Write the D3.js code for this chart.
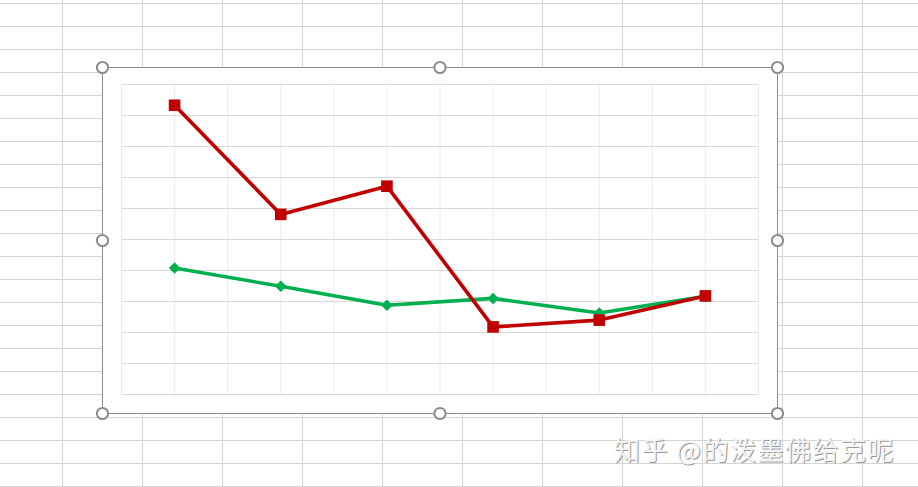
<!DOCTYPE html>
<meta charset="utf-8">
<script src="https://d3js.org/d3.v7.min.js"></script>
<style>
    body { margin: 0; background: #ffffff; }
    svg { display: block; }
</style>
<div id="my_dataviz"></div>

<script>
    // chart values (no axis labels are shown)
    var categories = ["1", "2", "3", "4", "5", "6"];
    var redValues = [93.3, 58.1, 67.2, 21.8, 24.0, 31.8];
    var greenValues = [40.8, 34.9, 28.8, 31.0, 26.3, 31.7];
    var yTicks = [0, 10, 20, 30, 40, 50, 60, 70, 80, 90, 100];
    var watermark = "知乎 @的泼墨佛给克呢";

    var W = 918, H = 487;

    var svg = d3.select("#my_dataviz")
        .append("svg")
        .attr("width", W)
        .attr("height", H);

    // spreadsheet cells behind the chart
    var sheet = svg.append("g").attr("class", "sheet");
    sheet.selectAll(".col")
        .data(d3.range(62.5, W, 80))
        .enter().append("line")
        .attr("x1", function (d) { return d; })
        .attr("x2", function (d) { return d; })
        .attr("y1", 0).attr("y2", H)
        .attr("stroke", "#d4d4d4").attr("stroke-width", 1);
    sheet.selectAll(".row")
        .data(d3.range(3.5, H, 23))
        .enter().append("line")
        .attr("x1", 0).attr("x2", W)
        .attr("y1", function (d) { return d; })
        .attr("y2", function (d) { return d; })
        .attr("stroke", "#d4d4d4").attr("stroke-width", 1);

    // chart area
    var box = { left: 102.5, top: 67.5, right: 777.5, bottom: 413.5 };
    svg.append("rect")
        .attr("x", box.left).attr("y", box.top)
        .attr("width", box.right - box.left)
        .attr("height", box.bottom - box.top)
        .attr("fill", "#ffffff")
        .attr("stroke", "#8c8c8c")
        .attr("stroke-width", 1);

    // plot area
    var plot = { left: 121.5, top: 84.5, right: 758.5, bottom: 394.5 };

    var x = d3.scaleBand()
        .domain(categories)
        .range([plot.left, plot.right]);

    var y = d3.scaleLinear()
        .domain([0, 100])
        .range([plot.bottom, plot.top]);

    var cx = function (d, i) { return x(categories[i]) + x.bandwidth() / 2; };

    // vertical gridlines: category edges and centres
    var vLines = [];
    categories.forEach(function (c) {
        vLines.push(x(c));
        vLines.push(x(c) + x.bandwidth() / 2);
    });
    vLines.push(plot.right);

    svg.append("g")
        .selectAll("line")
        .data(vLines)
        .enter().append("line")
        .attr("x1", function (d) { return d; })
        .attr("x2", function (d) { return d; })
        .attr("y1", plot.top).attr("y2", plot.bottom)
        .attr("stroke", "#ececec").attr("stroke-width", 1);

    // horizontal gridlines
    svg.append("g")
        .selectAll("line")
        .data(yTicks)
        .enter().append("line")
        .attr("x1", plot.left).attr("x2", plot.right)
        .attr("y1", function (d) { return y(d); })
        .attr("y2", function (d) { return y(d); })
        .attr("stroke", "#d9d9d9").attr("stroke-width", 1);

    var line = d3.line()
        .x(cx)
        .y(function (d) { return y(d); });

    var series = [
        { values: greenValues, color: "#00b050", symbol: d3.symbolDiamond2, size: 85 },
        { values: redValues, color: "#c00000", symbol: d3.symbolSquare, size: 135 }
    ];

    series.forEach(function (s) {
        svg.append("path")
            .datum(s.values)
            .attr("d", line)
            .attr("fill", "none")
            .attr("stroke", s.color)
            .attr("stroke-width", 3.6)
            .attr("stroke-linejoin", "round");

        svg.append("g")
            .selectAll("path")
            .data(s.values)
            .enter().append("path")
            .attr("d", d3.symbol().type(s.symbol).size(s.size))
            .attr("transform", function (d, i) {
                return "translate(" + cx(d, i) + "," + y(d) + ")";
            })
            .attr("fill", s.color);
    });

    // selection handles
    var midX = (box.left + box.right) / 2, midY = (box.top + box.bottom) / 2;
    var handles = [
        [box.left, box.top], [midX, box.top], [box.right, box.top],
        [box.left, midY], [box.right, midY],
        [box.left, box.bottom], [midX, box.bottom], [box.right, box.bottom]
    ];
    svg.append("g")
        .selectAll("circle")
        .data(handles)
        .enter().append("circle")
        .attr("cx", function (d) { return d[0]; })
        .attr("cy", function (d) { return d[1]; })
        .attr("r", 5.6)
        .attr("fill", "#ffffff")
        .attr("stroke", "#8c8c8c")
        .attr("stroke-width", 2);

    // watermark
    var wm = svg.append("g")
        .style("font-family", "'Noto Sans CJK SC', sans-serif")
        .style("font-size", "26px")
        .style("letter-spacing", "1.5px");
    wm.append("text")
        .attr("x", 615).attr("y", 461)
        .attr("fill", "#9a9a9a")
        .text(watermark);
    wm.append("text")
        .attr("x", 614).attr("y", 460)
        .attr("fill", "#f4f4f4")
        .text(watermark);
</script>
